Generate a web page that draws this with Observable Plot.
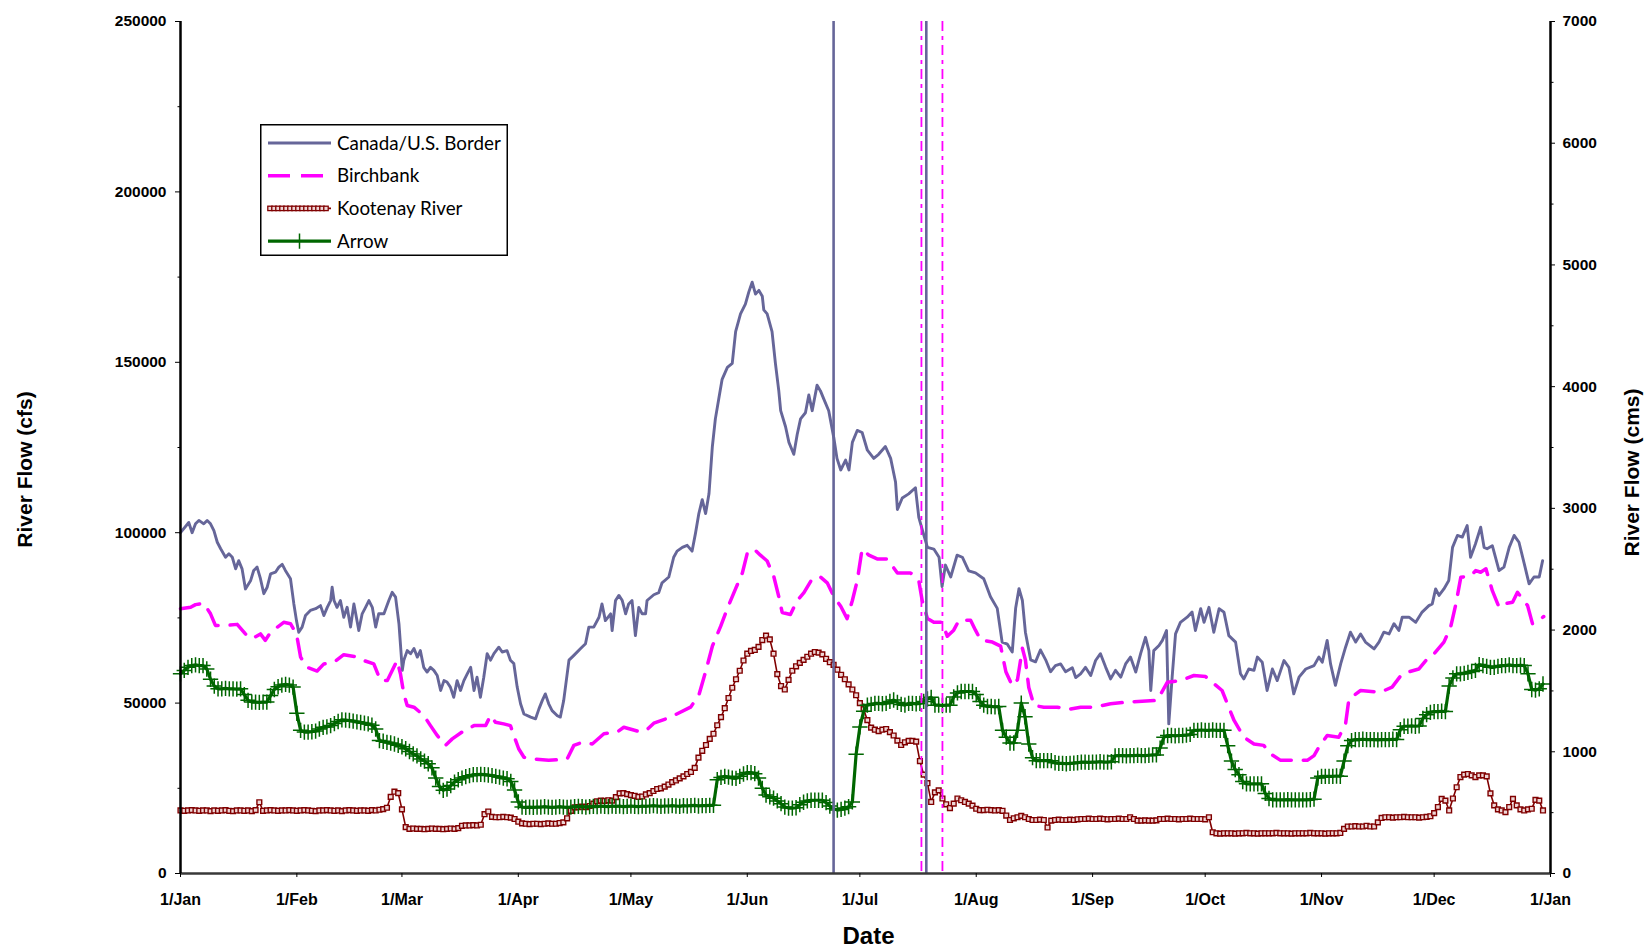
<!DOCTYPE html>
<html>
<head>
<meta charset="utf-8">
<script src="https://cdn.jsdelivr.net/npm/d3@7"></script>
<script src="https://cdn.jsdelivr.net/npm/@observablehq/plot@0.6"></script>
<style>
  html, body { margin: 0; padding: 0; background: #fff; overflow: hidden; }
  #chart { position: relative; width: 1644px; height: 948px; }
  #legend { position: absolute; left: 260px; top: 124px; }
</style>
</head>
<body>
<div id="chart"></div>
<script>
// ---- Daily river flows over one year (thousand cfs), day 0 = 1 January ----

// Canada/U.S. border: [day of year, flow]
const borderDay = [0,2.2,3.1,4,4.9,6.2,7.1,8,8.9,9.8,10.7,12,12.9,13.8,14.7,15.5,16.4,17.3,18.7,19.5,20.4,21.3,22.2,23.1,24,25.3,26.2,27.1,27.9,29.3,30.2,30.9,31.5,32.4,33.3,34.6,36,37.3,38.2,39.1,40,40.4,40.9,41.7,42.6,43.5,44.4,45.3,46.2,46.6,47.5,48.4,49.3,50.2,51.1,52,52.8,54.2,55.5,56.4,57.3,58.2,59.1,59.5,60.4,61.3,62.2,63.1,63.9,64.8,65.7,66.6,67.5,68.4,69.3,70.2,71,71.9,72.8,73.7,74.6,75.5,76.4,77.3,78.2,79,79.9,80.8,81.7,82.6,83.5,84.8,85.7,87,87.9,88.8,89.7,90.6,91.5,93.3,94.6,95.5,96.4,97.2,98.1,99,100.4,101.2,102.1,103.5,104.8,106.6,107.9,108.8,110.1,111.5,112.3,113.2,114.6,115,115.9,116.8,117.7,118.6,119.4,120.3,121.2,122.1,123,123.9,124.3,126.1,127.4,128.3,130.1,131.4,132.3,133.7,135,136.3,137.2,138.1,139,139.9,140.8,141.7,142.5,143.4,144.3,145.7,147,147.9,149.2,150.5,151.4,152.3,153.2,154.1,155,155.4,156.3,157.6,158.5,159.4,159.9,161.2,162.1,163.4,164.3,165.2,166.5,167.4,168.3,169.6,170.5,171.4,172.7,174.1,174.9,175.9,177.2,178.1,179,180.3,181.6,183,184.7,186,187.8,189.2,190.5,191,192.3,194,195.8,196.7,197.6,199,200.7,202.1,202.9,203.8,205.2,206.9,208.3,210,211.8,214,215.8,217.6,218.9,220.3,221.6,222.5,223.4,224.3,225.1,226.5,227.8,229.1,230.5,231.8,233.1,234.5,235.8,237.6,238.5,239.8,241.1,242.5,243.8,245.1,246.5,247.8,249.1,250.5,251.8,253.1,254.5,255.8,257.1,258,258.5,259.3,260.7,261.6,262.7,263.3,264.2,265.1,266.4,268.2,269.5,270.4,271.8,272.7,274,275.3,276.7,278,279.3,281.1,282.4,283.3,284.6,286,286.9,288.2,289.5,290.9,292.2,294,295.3,296.6,298,299.8,302,303.3,304.2,305.5,306.4,307.7,309.1,310.4,311.7,313.1,314.4,315.7,318,319.3,320.6,322,323.3,324.6,325.5,327.3,329.1,330.8,332.6,333.5,334.4,335.3,336.6,337.9,338.9,340.2,341.5,342.8,343.7,345,346.4,347.3,348.1,349.5,351.3,352.6,354,355.3,356.6,358,359.3,360.6,362,362.9];
const borderFlow = [100,103,100,102.6,103.6,102.6,103.6,102.6,100.6,97.2,95.3,92.8,93.8,92.8,89.4,91.8,89.4,83.5,86,88.9,89.9,86.5,82.1,84,87.9,88.4,89.9,90.7,89,86.5,79.1,74.2,70.8,72.3,75.7,77.2,77.7,78.6,75.7,78.1,80.1,84,80.1,78.1,80.1,75.2,78.1,72.3,79.1,76.7,71.3,76.2,78.1,80.1,78.1,72.3,76.2,76.2,80.1,82.5,81.1,73.3,59.6,62.6,65.4,64.5,66,63.5,65.4,60.5,59.1,60.5,59.6,58.1,53.7,56.6,56.2,54.7,51.7,56.6,53.7,56.6,58.6,60.5,53.7,57.6,51.7,57.6,64.5,62.6,64.5,66.4,65,65.4,62.6,61.6,54.7,49.8,46.8,45.9,45.4,48.3,50.8,52.7,49.8,47.8,46.3,45.9,50.8,62.6,64,66,67.4,72.3,72.3,75.2,79.1,74.2,76.2,71.3,80.1,81.6,80.1,76.2,79.1,80.1,69.8,78.1,76.2,76.2,80.1,81.8,82.4,85.3,87,92.8,94.6,95.7,96.3,94.6,99.8,105.6,109.7,105.6,111.4,125.3,133.4,139.2,145,148.5,149.7,159,164.2,167.1,170.6,173.5,170,171.1,169.4,165.4,164.2,159,149.7,141.6,135.8,131.1,126.5,123,128.8,133.4,135.2,140.4,135.8,143.3,141.6,139.2,135.8,127.6,121.8,118.4,121.3,118.4,126.5,130,129.4,124.2,121.8,123,125.3,121.8,114.9,106.8,110.2,111.4,113.2,104.5,101,95.7,95.2,92.8,84.2,90.5,87,93.4,92.8,88.8,88.2,86.5,81.2,77.8,67.9,67.3,65,77.8,83.6,80.1,70.8,62.7,62.1,65.6,62.7,59.2,61,61.5,59.2,60.4,57.5,58.6,60.5,58.1,62.5,64.5,60.5,57.1,59.6,57.6,61.5,63.5,59.1,64.5,69.3,65.4,53.7,65.4,66.9,68.4,71.3,43.9,57.6,70.3,73.7,75.2,76.7,71.3,77.7,73.7,78.1,70.8,77.7,76.7,69.8,67.9,58.6,57.1,60,59.6,63.5,62,53.7,60,56.6,62.5,60.5,52.7,57.6,60,61,63.5,62,68.4,61.5,55.2,61.5,66.4,70.8,67.9,70.3,67.9,65.9,67.9,70.8,70.3,73.3,71.3,75.2,75.2,73.7,76.7,78.6,79.1,83.5,81.6,83.5,86,95.7,99.2,98.7,102.1,92.8,96.7,101.6,95.7,95.3,96.2,88.9,89.9,95.7,99.2,97.2,90.9,85,87,87,91.8];

// Birchbank: [day of year, flow]
const birchbankDay = [0,2.7,4,6.2,8,9.3,12,15.1,17.3,19.1,21.3,22.6,24,27.5,29.3,30.9,32,33.7,36.4,38.2,40.9,43.5,47.1,48.8,51.5,53.3,55.1,57.7,58.6,59.5,60.4,62.2,64.8,66.6,68.4,70.6,72.4,75,78.2,81.3,82.6,83.9,86.1,87.9,88.8,90.1,91.5,94.1,98.1,103,104.8,107,109.7,112.8,116.3,118.1,121.7,123.9,126.1,130.6,135.9,138.1,139.9,141.7,143.9,145.7,147.9,149.7,151,152.8,154.5,156.3,158.1,159.4,160.3,162.5,164.3,166.1,168.3,170.5,172.3,174.1,175.9,177.6,179,180.3,181.6,183.4,185.6,188.3,191,194.5,196.7,197.6,199,200.7,202.9,204.3,206,207.4,210.5,211.8,213.2,216.3,218.5,219.9,221.6,223,224.3,225.1,226,227.4,230,233.6,236.7,239.8,243.3,247.8,252.2,260.2,262.9,266.4,270,273.1,274.9,277.5,278.9,280.7,283.3,286,288.6,290.4,293.1,300.2,302,303.3,305.5,308.6,310.4,311.3,314.4,319.7,322.8,325.5,329.9,332.2,334,336.6,338.4,339.8,341.1,343.8,345.1,346.4,347.8,349.5,351.3,352.6,354.9,356.2,358.9,360.2,361.6,363.2];
const birchbankFlow = [77.7,78.1,78.9,79.3,76.2,72.8,72.8,73.1,70.3,68.9,70.3,68.4,70.8,73.7,73.3,70.3,63.5,60.5,59.4,61.5,62,64.2,63.5,62.5,61.5,56.6,56.6,62.5,58.6,52.7,49.3,48.8,46.4,43.4,40.5,37.6,39.5,41.5,43.4,43.4,46.4,44.4,43.9,43.4,40.5,36.6,34.1,33.6,33.2,33.6,37.6,38.5,38,41,41.5,42.9,41.8,41.8,44.1,45.9,48.8,52.3,59.2,66.7,72.5,77.8,83.6,88.2,94,95.2,93.4,91.7,87,81.2,76.6,76,80.1,82.4,86.5,87,85.3,81.2,78.4,74.8,80.1,85.9,95.2,93.4,92.3,92.3,88.2,88.2,85.9,80.1,74.8,73.7,73.7,69.6,71.4,74.3,74.3,71.4,68.5,67.9,66.7,59.2,55.1,56.9,66.1,62.7,54.6,49.3,48.8,48.8,48.2,48.8,48.8,49.8,50.3,50.8,56.1,56.6,58.1,57.8,56.1,53.7,49.8,44.9,40,38,37.6,35.1,33.2,33.2,34.6,37.1,40.5,40,43.9,51.2,53.7,53.2,54.7,58.6,60,63,64.5,67.9,72.3,79.1,86.9,87.4,88.9,88.4,89.4,83,78.1,79.1,79.6,82.5,78.6,73.3,74.2,75.4];

// Kootenay River, one value per day
const kootenayFlow = [
  18.5,18.4,18.5,18.6,18.5,18.4,18.5,18.5,18.3,18.5,
  18.4,18.5,18.6,18.4,18.3,18.5,18.5,18.4,18.5,18.3,
  18.6,20.9,18.4,18.5,18.6,18.5,18.4,18.5,18.5,18.6,
  18.5,18.4,18.5,18.6,18.5,18.4,18.3,18.5,18.5,18.6,
  18.5,18.4,18.5,18.3,18.5,18.6,18.5,18.4,18.5,18.5,
  18.4,18.6,18.5,18.7,18.9,19.3,22.5,24.0,23.6,18.8,
  13.6,13.1,13.2,13.1,13.1,13.0,13.1,13.2,13.1,13.1,
  13.0,13.1,13.2,13.1,13.3,14.0,14.1,14.1,14.2,14.1,
  14.3,17.4,18.2,16.6,16.5,16.5,16.6,16.5,16.4,16.0,
  15.2,14.7,14.6,14.5,14.6,14.6,14.5,14.6,14.7,14.6,
  14.6,14.8,15.0,16.2,18.4,19.4,19.5,19.6,19.5,19.8,
  20.5,21.2,21.4,21.3,21.5,21.4,22.4,23.5,23.6,23.3,
  23.0,22.8,22.5,22.6,23.2,23.6,24.2,24.8,25.0,25.5,
  26.1,26.8,27.3,27.9,28.5,29.2,29.8,31.0,34.0,36.0,
  37.7,39.5,41.0,43.5,45.9,48.5,51.5,54.5,57.0,59.5,
  62.5,64.5,65.3,65.6,66.5,68.5,69.8,68.7,64.5,58.5,
  55.0,54.0,56.8,59.5,60.8,61.8,62.7,63.6,64.5,65.0,
  64.8,64.3,63.0,62.0,61.2,59.8,58.3,57.0,55.5,54.0,
  52.3,50.0,48.2,45.0,42.8,42.2,41.8,42.2,42.4,41.5,
  40.5,39.0,37.7,38.5,38.9,38.9,38.7,33.0,29.0,26.5,
  21.0,23.8,24.4,22.0,20.3,19.2,20.5,22.0,21.5,21.0,
  20.5,19.9,19.0,18.6,18.6,18.7,18.6,18.5,18.6,18.4,
  17.0,15.7,16.2,16.5,16.9,16.5,16.0,15.7,15.7,15.8,
  15.7,13.5,15.5,15.7,15.8,15.7,15.7,15.8,15.7,15.9,
  16.0,16.0,16.1,16.0,16.0,16.1,16.0,15.9,16.0,16.0,
  16.1,16.0,16.0,16.5,16.0,15.5,15.5,15.6,15.5,15.5,
  15.6,16.0,16.0,16.1,16.0,16.0,15.9,16.0,16.0,16.1,
  16.0,16.0,16.0,15.9,16.5,12.1,11.8,11.7,11.8,11.8,
  11.8,11.7,11.8,11.8,11.9,11.8,11.8,11.7,11.8,11.8,
  11.8,11.8,11.9,11.8,11.8,11.8,11.7,11.8,11.8,11.8,
  11.8,11.9,11.8,11.8,11.8,11.7,11.8,11.8,11.8,11.9,
  13.1,13.8,13.8,13.9,13.8,13.8,14.0,13.8,13.8,15.0,
  16.3,16.5,16.5,16.4,16.5,16.5,16.6,16.5,16.5,16.5,
  16.4,16.5,16.6,16.8,17.7,19.5,21.9,21.4,18.5,22.0,
  25.3,28.3,29.0,29.2,28.8,28.3,28.8,28.8,28.5,23.5,
  20.0,18.8,18.5,18.0,19.5,21.9,20.0,18.8,18.5,18.8,
  19.0,21.6,21.4,18.5
];

// Arrow, one value per day
const arrowFlow = [
  58.6,59.6,60.5,61.0,61.2,61.0,61.0,60.0,57.0,55.0,
  54.2,54.2,54.3,54.2,54.2,54.1,54.2,52.5,50.8,50.3,
  50.3,50.2,50.3,50.3,52.2,54.0,54.8,55.3,55.5,55.3,
  54.7,47.0,42.0,41.5,41.5,41.6,41.8,42.4,42.9,43.0,
  43.4,44.0,44.6,45.1,45.0,44.9,44.7,44.5,44.3,44.1,
  43.9,43.5,42.4,39.0,38.8,38.5,38.3,38.0,37.6,37.2,
  36.6,35.8,35.1,34.5,33.6,33.0,32.2,31.0,28.0,25.5,
  24.4,24.8,25.8,26.8,27.5,28.0,28.4,28.7,29.0,29.0,
  29.1,29.0,28.9,28.7,28.5,28.3,28.0,27.8,27.0,24.5,
  21.0,19.5,19.4,19.5,19.4,19.5,19.5,19.6,19.5,19.4,
  19.5,19.6,19.5,19.4,19.5,19.6,19.7,19.6,19.5,19.6,
  19.7,19.6,19.8,19.7,19.6,19.8,19.7,19.8,19.6,19.7,
  19.8,19.7,19.6,19.8,19.7,19.8,19.9,19.8,19.7,19.8,
  19.8,19.9,19.8,19.7,19.9,19.8,19.9,20.0,19.8,19.9,
  19.9,20.0,20.0,27.5,28.2,28.5,28.3,28.0,27.9,28.5,
  29.2,29.6,29.6,29.3,28.0,25.0,23.0,22.5,22.1,21.3,
  20.5,19.5,19.2,19.2,19.3,20.2,20.9,21.3,21.5,21.5,
  21.5,21.5,20.8,19.8,19.0,18.6,18.8,19.2,19.6,21.0,
  35.0,43.0,47.6,49.4,49.6,49.9,49.9,49.8,49.9,50.5,
  50.9,50.2,49.6,49.4,49.9,49.9,49.8,49.9,50.5,51.2,
  51.7,49.4,49.4,49.3,49.4,49.4,51.8,53.0,53.4,53.4,
  53.4,53.4,52.5,50.5,49.4,49.0,49.0,48.9,49.0,42.0,
  40.0,38.3,38.3,42.0,50.0,46.0,38.0,34.0,33.1,33.1,
  33.1,33.1,33.1,32.5,32.3,32.3,32.2,32.3,32.4,32.5,
  32.7,32.7,32.6,32.7,32.7,32.8,32.7,32.7,32.8,34.5,
  34.6,34.6,34.5,34.6,34.6,34.7,34.6,34.6,34.7,34.8,
  34.8,36.8,40.0,40.5,40.5,40.4,40.5,40.5,40.6,40.8,
  42.0,42.0,42.1,42.0,42.0,42.1,42.0,42.0,42.0,37.5,
  33.0,30.5,29.0,27.0,26.3,26.3,26.3,26.3,26.3,23.5,
  22.0,21.6,21.6,21.6,21.6,21.7,21.6,21.6,21.6,21.6,
  21.6,21.7,21.8,28.0,28.5,28.5,28.5,28.5,28.6,28.5,
  33.0,37.5,39.0,39.3,39.3,39.4,39.3,39.3,39.3,39.2,
  39.3,39.3,39.3,39.4,39.3,42.2,43.2,43.2,43.3,43.2,
  43.3,45.5,46.6,47.3,47.5,47.5,47.6,47.5,55.0,57.4,
  58.6,58.6,58.7,59.0,59.3,59.6,61.3,61.0,60.8,60.5,
  60.5,60.8,61.0,61.0,61.2,61.0,61.0,61.1,61.0,58.6,
  54.0,53.8,54.2,55.6
];

// Reference dates (day of year) marked with vertical lines
const borderEventDay = [174.0, 198.7];
const birchbankEventDay = [197.4, 203.0];

// Axis text
const seriesNames = ["Canada/U.S. Border", "Birchbank", "Kootenay River", "Arrow"];
const monthNames = ["Jan","Feb","Mar","Apr","May","Jun","Jul","Aug","Sep","Oct","Nov","Dec"];
const cfsTicks = [0, 50000, 100000, 150000, 200000, 250000];
const cfsMinorTicks = [25000, 75000, 125000, 175000, 225000];
const cmsTicks = [0, 1000, 2000, 3000, 4000, 5000, 6000, 7000];
const cmsMinorTicks = [500, 1500, 2500, 3500, 4500, 5500, 6500];
const axisTitles = {left: "River Flow (cfs)", right: "River Flow (cms)", bottom: "Date"};

// ---- Build records ----
const DAY_MS = 864e5;
const yearStart = Date.UTC(2001, 0, 1);
const yearEnd = Date.UTC(2002, 0, 1);
const toDate = d => new Date(yearStart + d * DAY_MS);

const border = borderDay.map((d, i) => ({date: toDate(d), flow: borderFlow[i] * 1000}));
const birchbank = birchbankDay.map((d, i) => ({date: toDate(d), flow: birchbankFlow[i] * 1000}));
const kootenay = kootenayFlow.map((v, i) => ({date: toDate(i), flow: v * 1000}));
const arrow = arrowFlow.map((v, i) => ({date: toDate(i), flow: v * 1000}));
const borderEvents = borderEventDay.map(toDate);
const birchbankEvents = birchbankEventDay.map(toDate);

// The right axis shares the y scale: 7000 cms spans the same height as 250000 cfs
const cfsPerCms = 250000 / 7000;
const monthTicks = d3.utcMonth.range(new Date(yearStart), new Date(yearEnd + 1));

const colors = {border: "#666699", birchbank: "#ff00ff", kootenay: "#800000", arrow: "#006600"};
const bold = {fontWeight: "bold"};
const noLabel = () => "";

const chart = Plot.plot({
  width: 1644,
  height: 948,
  marginLeft: 180,
  marginRight: 94,
  marginTop: 21,
  marginBottom: 75,
  style: {fontFamily: "'Liberation Sans', Arial, sans-serif", background: "#fff", color: "#000", overflow: "visible"},
  x: {type: "utc", domain: [new Date(yearStart), new Date(yearEnd)]},
  y: {domain: [0, 250000]},
  marks: [
    // data series
    Plot.line(border, {x: "date", y: "flow", stroke: colors.border, strokeWidth: 2.9}),
    Plot.line(birchbank, {x: "date", y: "flow", stroke: colors.birchbank, strokeWidth: 3.5, strokeDasharray: "20,12"}),
    Plot.line(kootenay, {x: "date", y: "flow", stroke: colors.kootenay, strokeWidth: 1.6}),
    Plot.dot(kootenay, {x: "date", y: "flow", symbol: "square", r: 2.7, stroke: "#800000", strokeWidth: 1.4, fill: "#eed6d6"}),
    Plot.line(arrow, {x: "date", y: "flow", stroke: colors.arrow, strokeWidth: 3.2}),
    Plot.dot(arrow, {x: "date", y: "flow", symbol: "plus", r: 5, stroke: colors.arrow, strokeWidth: 1.5}),

    // vertical reference lines
    Plot.ruleX(borderEvents, {stroke: colors.border, strokeWidth: 2.6}),
    Plot.ruleX(birchbankEvents, {stroke: colors.birchbank, strokeWidth: 1.8, strokeDasharray: "10,5,4,5"}),

    // axis lines
    Plot.ruleY([0], {stroke: "#383838", strokeWidth: 2.7}),
    Plot.ruleX([new Date(yearStart)], {stroke: "#000", strokeWidth: 2.5}),
    Plot.ruleX([new Date(yearEnd)], {stroke: "#000", strokeWidth: 2.5}),

    // bottom axis
    Plot.axisX({ticks: monthTicks, tickFormat: d => `1/${monthNames[d.getUTCMonth()]}`,
      tickSize: 4, tickPadding: 16, fontSize: 16, label: null, ...bold}),

    // left axis (cfs)
    Plot.axisY({ticks: cfsTicks, tickFormat: d => `${d}`, tickSize: 5, tickPadding: 9,
      fontSize: 15.5, label: null, ...bold}),
    Plot.axisY({ticks: cfsMinorTicks, tickFormat: noLabel, tickSize: 2.5, label: null}),

    // right axis (cms)
    Plot.axisY({anchor: "right", ticks: cmsTicks.map(v => v * cfsPerCms),
      tickFormat: v => `${Math.round(v / cfsPerCms)}`, tickSize: 4, tickPadding: 8,
      fontSize: 15.5, label: null, ...bold}),
    Plot.axisY({anchor: "right", ticks: cmsMinorTicks.map(v => v * cfsPerCms), tickFormat: noLabel,
      tickSize: 2.5, label: null}),

    // axis titles
    Plot.text([axisTitles.left], {frameAnchor: "left", dx: -155, dy: 22, rotate: -90,
      textAnchor: "middle", lineAnchor: "middle", fontSize: 21, ...bold}),
    Plot.text([axisTitles.right], {frameAnchor: "right", dx: 82, dy: 25, rotate: -90,
      textAnchor: "middle", lineAnchor: "middle", fontSize: 21, ...bold}),
    Plot.text([axisTitles.bottom], {frameAnchor: "bottom", dx: 3, dy: 63,
      textAnchor: "middle", lineAnchor: "middle", fontSize: 24, ...bold})
  ]
});

const host = document.getElementById("chart");
host.append(chart);

// ---- Legend box ----
const lg = d3.select(host).append("svg")
  .attr("id", "legend")
  .attr("width", 248)
  .attr("height", 132)
  .style("font-family", "Lato, 'Open Sans', sans-serif");

lg.append("rect")
  .attr("x", 0.75).attr("y", 0.75).attr("width", 246.5).attr("height", 130.5)
  .attr("fill", "#fff").attr("stroke", "#000").attr("stroke-width", 1.5);

const rowY = i => 19 + i * 32.7;
const sw0 = 8, sw1 = 71;

seriesNames.forEach((name, i) => {
  const y = rowY(i);
  const g = lg.append("g");
  if (i === 0) {
    g.append("line").attr("x1", sw0).attr("x2", sw1).attr("y1", y).attr("y2", y)
      .attr("stroke", colors.border).attr("stroke-width", 2.9);
  } else if (i === 1) {
    g.append("line").attr("x1", sw0).attr("x2", sw1).attr("y1", y).attr("y2", y)
      .attr("stroke", colors.birchbank).attr("stroke-width", 3.5).attr("stroke-dasharray", "22,11");
  } else if (i === 2) {
    g.append("line").attr("x1", sw0).attr("x2", sw1).attr("y1", y).attr("y2", y)
      .attr("stroke", colors.kootenay).attr("stroke-width", 1.6);
    for (let x = sw0 + 2; x <= sw1 - 2; x += 4) {
      g.append("rect").attr("x", x - 2.2).attr("y", y - 2.2).attr("width", 4.4).attr("height", 4.4)
        .attr("fill", "#eed6d6").attr("stroke", "#800000").attr("stroke-width", 1.3);
    }
  } else {
    g.append("line").attr("x1", sw0).attr("x2", sw1).attr("y1", y).attr("y2", y)
      .attr("stroke", colors.arrow).attr("stroke-width", 3.2);
    g.append("path").attr("transform", `translate(${(sw0 + sw1) / 2},${y})`)
      .attr("d", d3.symbol(d3.symbolPlus, Math.PI * 25)())
      .attr("fill", "none").attr("stroke", colors.arrow).attr("stroke-width", 1.5);
  }
  g.append("text").attr("x", 77).attr("y", y).attr("dy", "0.35em")
    .attr("font-size", 18.8).attr("fill", "#000").text(name);
});
</script>
</body>
</html>
